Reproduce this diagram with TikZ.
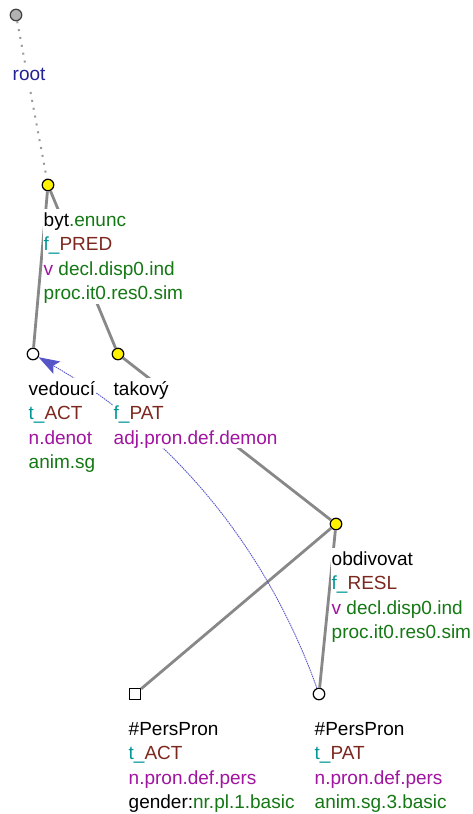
\documentclass[tikz,border=0pt]{standalone}
\usepackage{fontspec}
\setmainfont{Liberation Sans}
\usepackage{xcolor}
\usepackage{tikz}
\usetikzlibrary{arrows.meta}

\definecolor{tgreen}{RGB}{20,120,20}
\definecolor{tteal}{RGB}{0,150,150}
\definecolor{tbrown}{RGB}{125,40,30}
\definecolor{tpurple}{RGB}{160,20,160}
\definecolor{tblue}{RGB}{35,35,150}
\definecolor{corefblue}{RGB}{85,85,200}
\definecolor{edgegray}{RGB}{136,136,136}

\begin{document}
\begin{tikzpicture}[x=1pt,y=-1pt,
    tnode/.style={circle,draw=black,line width=1.2pt,inner sep=0pt,minimum size=11.5pt},
    edge/.style={draw=edgegray,line width=2.8pt},
    lab/.style={anchor=north west,inner xsep=0.5pt,inner ysep=0pt,fill=white,align=left,
      font=\fontsize{19}{24.5}\selectfont}]
  \useasboundingbox (0,0) rectangle (472,814);
  % Tree nodes
  \node[tnode,fill=black!30,draw=black!75] (root) at (16,15) {};
  \node[tnode,fill=yellow] (byt) at (48,185) {};
  \node[tnode,fill=white] (vedouci) at (33,354) {};
  \node[tnode,fill=yellow] (takovy) at (118,354) {};
  \node[tnode,fill=yellow] (obdiv) at (336,524) {};
  \node[rectangle,draw=black,line width=1.2pt,inner sep=0pt,minimum size=11pt,fill=white]
    (actpron) at (135,694) {};
  \node[tnode,fill=white] (patpron) at (319,694) {};
  % Edges
  \draw[draw=black!40,line width=2pt,dash pattern=on 2pt off 6pt] (root) -- (byt);
  \foreach \a/\b in {byt/vedouci,byt/takovy,takovy/obdiv,obdiv/actpron,obdiv/patpron}{
    \draw[edge] (\a) -- (\b);
  }
  % Coreference arrow
  \draw[corefblue,line width=0.9pt,dash pattern=on 1.5pt off 0.8pt,
    -{Stealth[length=21pt,width=14pt,inset=4pt]}]
    (patpron) .. controls (266,546) and (171,433) .. (vedouci);
  % Labels
  \node[lab] (rootlab) at ([shift={(-4,48.4)}]root.center) {\strut\textcolor{tblue}{root}};
  \node[lab] (bytlab) at ([shift={(-5,23.85)}]byt.center)
    {\strut byt\textcolor{tgreen}{.enunc}\\
     \textcolor{tteal}{f\_}\textcolor{tbrown}{PRED}\\
     \textcolor{tpurple}{v} \textcolor{tgreen}{decl.disp0.ind}\\
     \textcolor{tgreen}{proc.it0.res0.sim}};
  \node[lab] (vedoucilab) at ([shift={(-5,23.85)}]vedouci.center)
    {\strut vedoucí\\
     \textcolor{tteal}{t\_}\textcolor{tbrown}{ACT}\\
     \textcolor{tpurple}{n.denot}\\
     \textcolor{tgreen}{anim.sg}};
  \node[lab] (takovylab) at ([shift={(-5,23.85)}]takovy.center)
    {\strut takový\\
     \textcolor{tteal}{f\_}\textcolor{tbrown}{PAT}\\
     \textcolor{tpurple}{adj.pron.def.demon}};
  \node[lab] (obdivlab) at ([shift={(-5,23.85)}]obdiv.center)
    {\strut obdivovat\\
     \textcolor{tteal}{f\_}\textcolor{tbrown}{RESL}\\
     \textcolor{tpurple}{v} \textcolor{tgreen}{decl.disp0.ind}\\
     \textcolor{tgreen}{proc.it0.res0.sim}};
  \node[lab] (actpronlab) at ([shift={(-7,23.85)}]actpron.center)
    {\strut \#PersPron\\
     \textcolor{tteal}{t\_}\textcolor{tbrown}{ACT}\\
     \textcolor{tpurple}{n.pron.def.pers}\\
     gender:\textcolor{tgreen}{nr.pl.1.basic}};
  \node[lab] (patpronlab) at ([shift={(-5,23.85)}]patpron.center)
    {\strut \#PersPron\\
     \textcolor{tteal}{t\_}\textcolor{tbrown}{PAT}\\
     \textcolor{tpurple}{n.pron.def.pers}\\
     \textcolor{tgreen}{anim.sg.3.basic}};
\end{tikzpicture}
\end{document}
